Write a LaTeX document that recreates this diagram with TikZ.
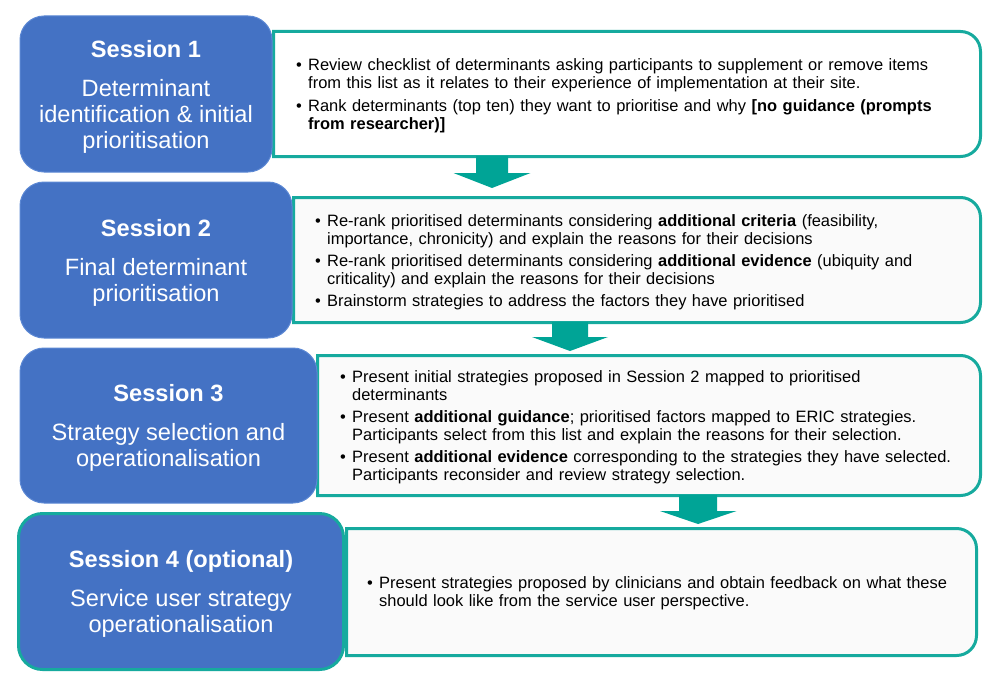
\documentclass[tikz,border=0pt]{standalone}
\usepackage{fontspec}
\setmainfont{Liberation Sans}
\definecolor{sblue}{RGB}{68,114,196}
\definecolor{sblueline}{RGB}{92,136,212}
\definecolor{steal}{RGB}{22,170,158}
\definecolor{sarrow}{RGB}{0,164,150}
\definecolor{sfill}{RGB}{250,250,250}
\newcommand\bpt[1]{\hangindent=10.5pt\hangafter=1\noindent\makebox[10.5pt][l]{\hspace{-1.5pt}\textbullet}#1\par}
\newcommand\bgap{\vskip4.5pt}
\newcommand\rbox[5]{\draw[rboxline,fill=#5] (#1,-#2) -- ({#3-20},-#2) arc[start angle=90,end angle=0,radius=20] -- (#3,{-#4+20}) arc[start angle=0,end angle=-90,radius=20] -- (#1,-#4) -- cycle;}
\begin{document}
\begin{tikzpicture}[x=1pt,y=1pt,
  session/.style={rounded corners=24pt, fill=sblue, draw=sblueline, line width=1pt, text=white,
    align=center, font=\fontsize{23.6}{26}\selectfont, inner sep=0pt, text depth=0pt},
  rboxline/.style={draw=steal, line width=3pt},
  bodytext/.style={anchor=north west, inner sep=0pt, text width=640pt, align=left,
    font=\fontsize{16.45}{17.9}\selectfont},
  blockarrow/.style={fill=sarrow, draw=none}]
\fill[white] (0,0) rectangle (1000,-690);
\useasboundingbox (0,0) rectangle (1000,-690);

% right-hand boxes
\rbox{273.5}{31.5}{980.5}{156.5}{white}
\rbox{293.5}{197.5}{980.5}{322.5}{sfill}
\rbox{317.5}{355.5}{980.5}{495.5}{sfill}
\rbox{346.5}{528.5}{976.5}{655.5}{sfill}

% block arrows
\fill[blockarrow] (476,-156) -- (508,-156) -- (508,-173) -- (530.5,-173) -- (492,-188) -- (453.5,-173) -- (476,-173) -- cycle;
\fill[blockarrow] (552,-322) -- (588,-322) -- (588,-337) -- (608,-337) -- (570,-351) -- (532,-337) -- (552,-337) -- cycle;
\fill[blockarrow] (679,-495) -- (717,-495) -- (717,-511) -- (736.5,-511) -- (698,-524) -- (660,-511) -- (679,-511) -- cycle;

% session boxes
\node[session, minimum width=252pt, minimum height=156pt] (s1) at (146,-94)
  {\textbf{Session 1}\\[13pt]Determinant\\identification \& initial\\prioritisation};
\node[session, minimum width=272pt, minimum height=156pt] (s2) at (156,-260)
  {\textbf{Session 2}\\[13pt]Final determinant\\prioritisation};
\node[session, minimum width=297pt, minimum height=155pt] (s3) at (168.5,-425.5)
  {\textbf{Session 3}\\[13pt]Strategy selection and\\operationalisation};
\node[session, draw=steal, line width=3pt, minimum width=325pt, minimum height=156pt] (s4) at (181,-591.5)
  {\textbf{Session 4 (optional)}\\[13pt]Service user strategy\\operationalisation};

% body texts
\node[bodytext] (t1) at (297.5,-58.7) {%
\bpt{Review checklist of determinants asking participants to supplement or remove items\newline from this list as it relates to their experience of implementation at their site.}\bgap
\bpt{Rank determinants (top ten) they want to prioritise and why \textbf{[no guidance (prompts\newline from researcher)]}}};

\node[bodytext] (t2) at (316.5,-214) {%
\bpt{Re-rank prioritised determinants considering \textbf{additional criteria} (feasibility,\newline importance, chronicity) and explain the reasons for their decisions}\bgap
\bpt{Re-rank prioritised determinants considering \textbf{additional evidence} (ubiquity and\newline criticality) and explain the reasons for their decisions}\bgap
\bpt{Brainstorm strategies to address the factors they have prioritised}};

\node[bodytext] (t3) at (341.5,-370) {%
\bpt{Present initial strategies proposed in Session 2 mapped to prioritised\newline determinants}\bgap
\bpt{Present \textbf{additional guidance}; prioritised factors mapped to ERIC strategies.\newline Participants select from this list and explain the reasons for their selection.}\bgap
\bpt{Present \textbf{additional evidence} corresponding to the strategies they have selected.\newline Participants reconsider and review strategy selection.}};

\node[bodytext] (t4) at (368.5,-576) {%
\bpt{Present strategies proposed by clinicians and obtain feedback on what these\newline should look like from the service user perspective.}};
\end{tikzpicture}
\end{document}
